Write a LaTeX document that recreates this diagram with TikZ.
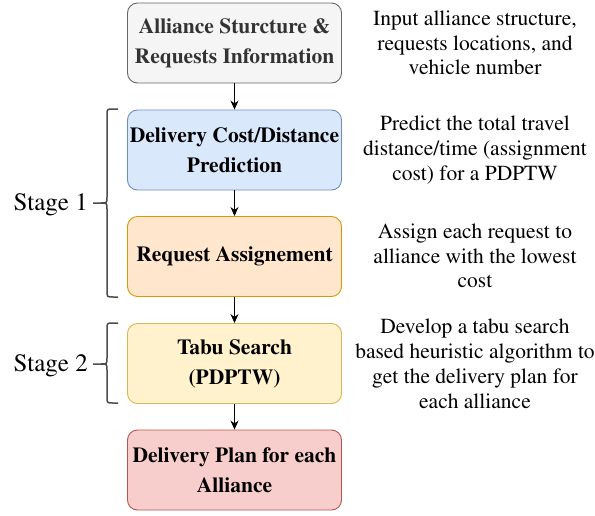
\documentclass[tikz,border=0pt]{standalone}
\usepackage[T1]{fontenc}
\usepackage{times}
\usetikzlibrary{arrows.meta}
\definecolor{gfill}{HTML}{F5F5F5}\definecolor{gline}{HTML}{666666}
\definecolor{bfill}{HTML}{DAE8FC}\definecolor{bline}{HTML}{6C8EBF}
\definecolor{ofill}{HTML}{FFE6CC}\definecolor{oline}{HTML}{D79B00}
\definecolor{yfill}{HTML}{FFF2CC}\definecolor{yline}{HTML}{D6B656}
\definecolor{rfill}{HTML}{F8CECC}\definecolor{rline}{HTML}{B85450}
\definecolor{bracecol}{HTML}{4D4D4D}
\definecolor{titletext}{HTML}{333333}
\tikzset{
  stepbox/.style={draw, rounded corners=10pt, line width=0.9pt, minimum width=214pt, minimum height=80pt,
    align=center, inner sep=1pt, font=\fontsize{21.5}{30}\selectfont\bfseries},
  note/.style={align=center, font=\fontsize{21.5}{24.8}\selectfont, inner sep=0pt},
  stagelabel/.style={font=\fontsize{25}{30}\selectfont, inner sep=0pt},
  flow/.style={line width=1pt, -{Stealth[length=9pt,width=8pt]}},
  bracestyle/.style={draw=bracecol, line width=1.5pt}
}
\begin{document}
\begin{tikzpicture}[x=1pt,y=-1pt]
\useasboundingbox (0,0) rectangle (595,515);
\node[stepbox, fill=gfill, draw=gline, text=titletext] (b1) at (234.5,43) {Alliance Sturcture \&\\Requests Information};
\node[stepbox, fill=bfill, draw=bline] (b2) at (234.5,150) {Delivery Cost/Distance\\Prediction};
\node[stepbox, fill=ofill, draw=oline] (b3) at (234.5,256.5) {Request Assignement};
\node[stepbox, fill=yfill, draw=yline] (b4) at (234.5,363.5) {Tabu Search\\(PDPTW)};
\node[stepbox, fill=rfill, draw=rline] (b5) at (234.5,470) {Delivery Plan for each\\Alliance};
\draw[flow] (b1) -- (b2);
\draw[flow] (b2) -- (b3);
\draw[flow] (b3) -- (b4);
\draw[flow] (b4) -- (b5);
\node[note] (n1) at (475,43) {Input alliance structure,\\requests locations, and\\vehicle number};
\node[note] (n2) at (475,150) {Predict the total travel\\distance/time (assignment\\cost) for a PDPTW};
\node[note] (n3) at (475,256) {Assign each request to\\alliance with the lowest\\cost};
\node[note] (n4) at (475,364) {Develop a tabu search\\based heuristic algorithm to\\get the delivery plan for\\each alliance};
% braces
\draw[bracestyle] (118,109) -- (113,109) .. controls (107,109) .. (107,115) -- (107,197)
  .. controls (107,203) .. (101,203) -- (93,203) -- (101,203)
  .. controls (107,203) .. (107,209) -- (107,291) .. controls (107,297) .. (113,297) -- (118,297);
\coordinate (t1) at (93,203);
\draw[bracestyle] (118,323) -- (113,323) .. controls (107,323) .. (107,329) -- (107,358)
  .. controls (107,364) .. (101,364) -- (93,364) -- (101,364)
  .. controls (107,364) .. (107,370) -- (107,397) .. controls (107,403) .. (113,403) -- (118,403);
\coordinate (t2) at (93,364);
\node[stagelabel, anchor=east] (s1) at ([xshift=-5pt,yshift=-2pt]t1) {Stage 1};
\node[stagelabel, anchor=east] (s2) at ([xshift=-5pt,yshift=-2pt]t2) {Stage 2};
\end{tikzpicture}
\end{document}
